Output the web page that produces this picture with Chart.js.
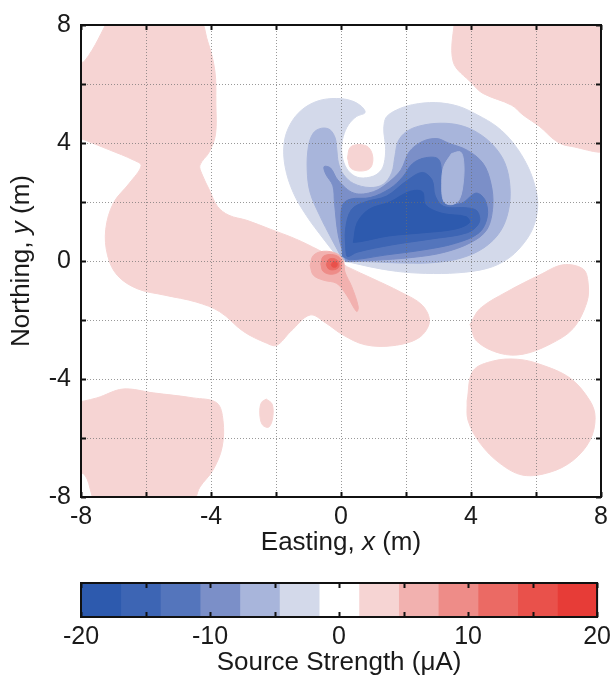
<!DOCTYPE html>
<html>
<head>
<meta charset="utf-8">
<title>Source strength map</title>
<script src="https://cdn.jsdelivr.net/npm/chart.js@4.4.1/dist/chart.umd.min.js"></script>
<style>
  html, body { margin: 0; padding: 0; background: #ffffff; }
  #wrap { position: relative; width: 616px; height: 678px; }
  #mapCanvas { position: absolute; left: 0; top: 0; }
  #barCanvas { position: absolute; left: 0; top: 560px; }
</style>
</head>
<body>
<div id="wrap">
  <canvas id="mapCanvas" width="616" height="560"></canvas>
  <canvas id="barCanvas" width="616" height="118"></canvas>
</div>
<script>
'use strict';

// Axis ticks
const mapTicks = [-8, -6, -4, -2, 0, 2, 4, 6, 8];
const mapLabels = [-8, -4, 0, 4, 8];
const barTicks = [-20, -15, -10, -5, 0, 5, 10, 15, 20];
const barLabels = [-20, -10, 0, 10, 20];

// 13 contour levels between -20 and 20 uA
const levelEdges = [-20, -16.92, -13.85, -10.77, -7.69, -4.62, -1.54, 1.54, 4.62, 7.69, 10.77, 13.85, 16.92, 20];
const levelColors = ['#2d5aae', '#3d65b4', '#5475bc', '#7b8fc8', '#a8b5db', '#d3d9ea', '#ffffff',
                     '#f6d4d3', '#f2b1af', '#ee8c88', '#eb6a64', '#e9514b', '#e73c37'];

// Contour outlines, [easting, northing] in metres
const pinkWest = [[-7.1, 8.3], [-4.45, 8.3], [-4.1, 7.44], [-3.88, 6.44], [-3.85, 5.32], [-3.86, 4.3],
  [-4.05, 3.7], [-4.34, 3.25], [-4.28, 2.95], [-4.05, 2.41], [-3.8, 1.85], [-3.45, 1.55], [-2.9, 1.38],
  [-2.18, 1.08], [-1.4, 0.75], [-0.7, 0.38], [-0.15, 0.06], [0.0, -0.05], [0.2, -0.2], [0.98, -0.6],
  [1.83, -1.05], [2.5, -1.5], [2.72, -2.06], [2.4, -2.6], [1.6, -2.87], [0.74, -2.84], [0.05, -2.5],
  [-0.47, -2.1], [-0.95, -1.83], [-1.55, -2.39], [-1.98, -2.86], [-2.3, -2.78], [-3.0, -2.39],
  [-3.73, -1.72], [-4.46, -1.39], [-5.42, -1.16], [-6.27, -0.94], [-6.88, -0.49], [-7.18, 0.18],
  [-7.24, 1.07], [-7.0, 1.97], [-6.51, 2.64], [-6.15, 3.23], [-6.4, 3.43], [-7.11, 3.76], [-7.88, 4.1],
  [-8.3, 4.3], [-8.3, 6.6], [-7.88, 6.79]];
const pinkNorthEast = [[3.5, 8.3], [3.45, 6.76], [4.03, 6.02], [4.37, 5.68], [5.25, 5.28], [5.6, 4.95],
  [6.12, 4.55], [6.6, 4.08], [7.0, 3.9], [8.3, 3.85], [8.3, 8.3]];
const pinkEast = [[3.97, -2.15], [4.28, -1.61], [5.11, -1.04], [6.12, -0.47], [6.83, -0.13], [7.45, -0.27],
  [7.6, -0.71], [7.57, -1.38], [7.14, -2.29], [6.43, -2.82], [5.6, -3.16], [4.89, -3.13], [4.18, -2.72]];
const pinkSouthEast = [[3.88, -4.74], [4.06, -3.73], [4.68, -3.39], [5.42, -3.33], [6.12, -3.5], [7.05, -3.97],
  [7.66, -4.74], [7.82, -5.31], [7.66, -6.08], [7.14, -6.76], [6.43, -7.16], [5.6, -7.26], [4.89, -6.86],
  [4.28, -6.18], [3.91, -5.41]];
const pinkSouthWest = [[-8.3, -4.84], [-7.51, -4.64], [-6.71, -4.34], [-5.78, -4.47], [-4.55, -4.64],
  [-3.82, -4.81], [-3.63, -5.41], [-3.66, -6.32], [-3.94, -7.09], [-4.34, -7.66], [-4.65, -8.3],
  [-7.42, -8.3], [-7.88, -7.26], [-8.3, -7.0]];
const pinkSpeck = [[-2.3, -4.68], [-2.12, -4.85], [-2.1, -5.3], [-2.22, -5.63], [-2.42, -5.55],
  [-2.5, -5.15], [-2.45, -4.8]];
const pinkHole = [[0.2, 3.5], [0.28, 3.85], [0.55, 3.95], [0.85, 3.85], [0.98, 3.5], [0.9, 3.15],
  [0.6, 3.05], [0.3, 3.15]];

const blueOuter = [[0.0, 0.0], [-0.185, 0.25], [-0.54, 0.75], [-1.06, 1.53], [-1.47, 2.32], [-1.72, 3.2],
  [-1.75, 4.0], [-1.57, 4.62], [-1.21, 5.12], [-0.7, 5.43], [-0.13, 5.51], [0.33, 5.43], [0.64, 5.23],
  [0.74, 5.03], [0.48, 4.9], [0.23, 4.62], [0.07, 4.22], [0.02, 3.78], [0.09, 3.33], [0.28, 2.99],
  [0.58, 2.82], [1.0, 2.88], [1.25, 3.1], [1.35, 3.44], [1.37, 3.89], [1.32, 4.34], [1.33, 4.67],
  [1.41, 4.9], [1.71, 5.12], [2.2, 5.3], [2.9, 5.37], [3.6, 5.25], [4.2, 4.95], [4.8, 4.55], [5.3, 4.0],
  [5.75, 3.2], [6.0, 2.4], [6.05, 1.8], [5.9, 1.1], [5.55, 0.5], [5.1, 0.05], [4.5, -0.25], [3.6, -0.4],
  [2.6, -0.42], [1.7, -0.35], [0.9, -0.2], [0.3, -0.05]];
const blueL4 = [[0.05, 0.05], [-0.29, 0.75], [-0.65, 1.53], [-0.95, 2.32], [-1.04, 3.1], [-1.0, 3.89],
  [-0.85, 4.34], [-0.6, 4.5], [-0.34, 4.45], [-0.18, 4.17], [-0.13, 3.78], [-0.08, 3.33], [0.07, 2.94],
  [0.38, 2.63], [0.89, 2.49], [1.3, 2.6], [1.56, 2.99], [1.66, 3.55], [1.76, 4.06], [2.02, 4.39],
  [2.43, 4.58], [3.05, 4.67], [3.66, 4.6], [4.2, 4.35], [4.7, 3.9], [5.05, 3.3], [5.2, 2.5], [5.15, 1.7],
  [4.9, 1.0], [4.4, 0.45], [3.7, 0.1], [2.9, -0.05], [2.0, -0.07], [1.0, -0.03], [0.3, 0.0]];
const blueL3 = [[0.15, -0.02], [-0.08, 0.85], [-0.2, 1.97], [-0.25, 2.55], [-0.47, 2.95], [-0.52, 3.2],
  [-0.32, 3.15], [-0.1, 2.75], [0.4, 2.3], [1.0, 2.35], [1.5, 2.7], [1.85, 3.1], [2.1, 3.7], [2.5, 4.05],
  [2.95, 4.15], [3.3, 4.0], [3.89, 3.75], [4.37, 3.31], [4.61, 2.64], [4.67, 1.85], [4.49, 1.07],
  [4.0, 0.63], [3.16, 0.29], [2.19, 0.12], [0.98, 0.02]];
const blueL2 = [[0.05, 0.15], [0.0, 1.2], [0.05, 1.9], [0.3, 2.1], [0.9, 2.15], [1.5, 2.45], [1.9, 2.85],
  [2.2, 3.3], [2.6, 3.5], [3.0, 3.45], [3.1, 2.9], [3.15, 2.3], [3.3, 2.0], [3.7, 1.95], [4.15, 2.3],
  [4.43, 2.07], [4.5, 1.5], [4.25, 0.96], [3.52, 0.6], [2.56, 0.38], [1.35, 0.2], [0.3, 0.04]];
const blueFinger = [[3.4, 3.64], [3.67, 3.7], [3.77, 3.42], [3.77, 2.75], [3.64, 2.08], [3.4, 1.91],
  [3.16, 2.02], [3.1, 2.64], [3.16, 3.2]];
const blueL1 = [[0.15, 0.35], [0.14, 1.07], [0.32, 1.74], [0.74, 2.0], [1.4, 2.2], [2.0, 2.7], [2.5, 3.0],
  [2.8, 2.75], [2.9, 2.2], [3.16, 1.85], [3.89, 1.8], [4.19, 1.69], [4.25, 1.3], [3.89, 0.96], [2.8, 0.75],
  [1.59, 0.55], [0.5, 0.3], [0.2, 0.15]];
const blueCore = [[0.38, 0.63], [0.5, 1.3], [0.86, 1.75], [1.5, 2.0], [2.1, 2.35], [2.5, 2.35], [2.6, 1.9],
  [3.1, 1.62], [3.85, 1.5], [3.95, 1.3], [3.5, 1.08], [2.56, 0.96], [1.47, 0.85], [0.62, 0.66]];

const redL8 = [[-0.95, -0.15], [-0.85, 0.19], [-0.54, 0.33], [-0.13, 0.25], [0.07, 0.02], [0.12, -0.37],
  [0.33, -0.87], [0.53, -1.55], [0.48, -1.71], [0.17, -1.15], [-0.13, -0.76], [-0.54, -0.65], [-0.85, -0.48]];
const redL9 = [[-0.62, -0.1], [-0.55, 0.15], [-0.3, 0.22], [-0.05, 0.12], [0.02, -0.12], [-0.05, -0.35],
  [-0.3, -0.45], [-0.55, -0.35]];
const redL10 = [[-0.45, -0.12], [-0.38, 0.05], [-0.22, 0.08], [-0.08, -0.02], [-0.08, -0.22], [-0.25, -0.3],
  [-0.4, -0.25]];
const redL11 = [[-0.3, -0.12], [-0.22, -0.02], [-0.12, -0.08], [-0.15, -0.2], [-0.26, -0.2]];

// painting order, bottom first: [outline, level index]
const contourLayers = [
  [pinkWest, 7], [pinkNorthEast, 7], [pinkEast, 7], [pinkSouthEast, 7], [pinkSouthWest, 7], [pinkSpeck, 7],
  [blueOuter, 5], [pinkHole, 7], [blueL4, 4], [blueL3, 3], [blueL2, 2], [blueFinger, 4], [blueL1, 1],
  [blueCore, 0], [redL8, 8], [redL9, 9], [redL10, 10], [redL11, 11]
];

const FONT = '"Liberation Sans", Arial, Helvetica, sans-serif';
const TEXT = '#1a1a1a';
const TICK_SIZE = 25;
const TITLE_SIZE = 26;
Chart.defaults.font.family = FONT;
Chart.defaults.color = TEXT;

// grid, inward tick marks and the black frame, drawn over the filled contours
const frameOverlay = {
  id: 'frameOverlay',
  afterDatasetsDraw(chart, args, opts) {
    const { ctx, chartArea: a } = chart;
    const sx = chart.scales.x;
    const sy = chart.scales.y;
    ctx.save();
    const xs = sx.ticks.map(t => Math.round(sx.getPixelForValue(t.value)) + 0.5);
    const ys = opts.yTicks ? sy.ticks.map(t => Math.round(sy.getPixelForValue(t.value)) + 0.5) : [];
    if (opts.grid) {
      ctx.strokeStyle = opts.gridColor;
      ctx.lineWidth = 1;
      ctx.setLineDash([1, 2]);
      ctx.beginPath();
      xs.forEach(px => { ctx.moveTo(px, a.top); ctx.lineTo(px, a.bottom); });
      ys.forEach(py => { ctx.moveTo(a.left, py); ctx.lineTo(a.right, py); });
      ctx.stroke();
      ctx.setLineDash([]);
    }
    const len = opts.tickLen;
    ctx.strokeStyle = '#111111';
    ctx.lineWidth = 2;
    ctx.beginPath();
    xs.forEach(px => {
      ctx.moveTo(px, a.top); ctx.lineTo(px, a.top + len);
      ctx.moveTo(px, a.bottom); ctx.lineTo(px, a.bottom - len);
    });
    ys.forEach(py => {
      ctx.moveTo(a.left, py); ctx.lineTo(a.left + len, py);
      ctx.moveTo(a.right, py); ctx.lineTo(a.right - len, py);
    });
    ctx.stroke();
    ctx.strokeRect(a.left, a.top, a.right - a.left, a.bottom - a.top);
    ctx.restore();
  }
};

// axis titles with an italic variable name
function drawRichText(ctx, parts, cx, cy, angle, size) {
  ctx.save();
  ctx.translate(cx, cy);
  ctx.rotate(angle);
  ctx.fillStyle = TEXT;
  ctx.textBaseline = 'middle';
  ctx.textAlign = 'left';
  const fonts = parts.map(p => (p[1] ? 'italic ' : '') + size + 'px ' + FONT);
  let total = 0;
  const widths = parts.map((p, i) => { ctx.font = fonts[i]; const w = ctx.measureText(p[0]).width; total += w; return w; });
  let x = -total / 2;
  parts.forEach((p, i) => { ctx.font = fonts[i]; ctx.fillText(p[0], x, 0); x += widths[i]; });
  ctx.restore();
}

const axisTitles = {
  id: 'axisTitles',
  afterDraw(chart) {
    const { ctx, chartArea: a } = chart;
    const midX = (a.left + a.right) / 2;
    const midY = (a.top + a.bottom) / 2;
    drawRichText(ctx, [['Easting, ', false], ['x', true], [' (m)', false]], midX, 543, 0, TITLE_SIZE);
    drawRichText(ctx, [['Northing, ', false], ['y', true], [' (m)', false]], 22, midY, -Math.PI / 2, TITLE_SIZE);
  }
};

const mapDatasets = contourLayers.map(([outline, level], i) => {
  const color = levelColors[level];
  return {
    data: outline.concat([outline[0]]).map(([x, y]) => ({ x, y })),
    backgroundColor: color,
    borderColor: color,
    borderWidth: 1,
    pointRadius: 0,
    pointHoverRadius: 0,
    tension: 0.35,
    fill: 'shape',
    order: contourLayers.length - i
  };
});

function tickAxis(labels, pad) {
  return {
    grid: { display: false, drawTicks: false },
    border: { display: false },
    ticks: {
      autoSkip: false,
      maxRotation: 0,
      padding: pad,
      font: { size: TICK_SIZE },
      color: TEXT,
      callback: v => (labels.includes(v) ? String(v) : '')
    }
  };
}

new Chart(document.getElementById('mapCanvas'), {
  type: 'line',
  data: { datasets: mapDatasets },
  options: {
    responsive: false,
    animation: false,
    devicePixelRatio: 1,
    layout: { padding: { top: 21, right: 15, left: 0, bottom: 0 } },
    plugins: {
      legend: { display: false },
      tooltip: { enabled: false },
      frameOverlay: { grid: true, yTicks: true, gridColor: 'rgba(110,110,110,0.7)', tickLen: 5 }
    },
    scales: {
      x: Object.assign(tickAxis(mapLabels, 5), {
        type: 'linear', position: 'bottom', min: -8, max: 8,
        afterBuildTicks: s => { s.ticks = mapTicks.map(v => ({ value: v })); },
        afterFit: s => { s.height = 63; }
      }),
      y: Object.assign(tickAxis(mapLabels, 10), {
        type: 'linear', position: 'left', min: -8, max: 8,
        afterBuildTicks: s => { s.ticks = mapTicks.map(v => ({ value: v })); },
        afterFit: s => { s.width = 81; }
      })
    }
  },
  plugins: [frameOverlay, axisTitles]
});

// colour bar: one floating bar per contour level
const barDatasets = levelColors.map((color, i) => ({
  data: [[levelEdges[i], levelEdges[i + 1]]],
  backgroundColor: color,
  borderWidth: 0,
  barPercentage: 1,
  categoryPercentage: 1,
  grouped: false
}));

new Chart(document.getElementById('barCanvas'), {
  type: 'bar',
  data: { labels: ['strength'], datasets: barDatasets },
  options: {
    indexAxis: 'y',
    responsive: false,
    animation: false,
    devicePixelRatio: 1,
    layout: { padding: { top: 23, right: 15, left: 81, bottom: 0 } },
    plugins: {
      legend: { display: false },
      tooltip: { enabled: false },
      frameOverlay: { grid: false, yTicks: false, tickLen: 5 }
    },
    scales: {
      x: Object.assign(tickAxis(barLabels, 5), {
        type: 'linear', position: 'bottom', min: -20, max: 20,
        afterBuildTicks: s => { s.ticks = barTicks.map(v => ({ value: v })); },
        afterFit: s => { s.height = 61; },
        title: { display: true, text: 'Source Strength (\u03bcA)', color: TEXT, font: { size: TITLE_SIZE }, padding: { top: 0, bottom: 0 } }
      }),
      y: { type: 'category', display: false }
    }
  },
  plugins: [frameOverlay]
});
</script>
</body>
</html>
